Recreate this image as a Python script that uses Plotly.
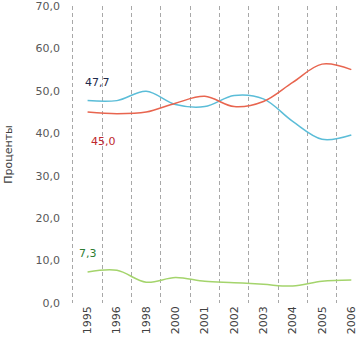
import plotly.graph_objects as go

years = ["1995", "1996", "1998", "2000", "2001", "2002", "2003", "2004", "2005", "2006"]
blue_vals = [47.7, 47.7, 49.9, 46.8, 46.3, 48.9, 48.1, 42.8, 38.6, 39.6]
red_vals = [45.0, 44.6, 45.0, 47.1, 48.7, 46.3, 47.5, 52.0, 56.3, 55.0]
green_vals = [7.3, 7.7, 4.9, 6.0, 5.1, 4.8, 4.4, 4.0, 5.1, 5.4]
y_ticks = [0, 10, 20, 30, 40, 50, 60, 70]

xs = list(range(len(years)))
font = "DejaVu Sans"

fig = go.Figure()
fig.add_trace(go.Scatter(x=xs, y=blue_vals, mode="lines",
                         line=dict(color="#5bbdd8", width=1.5, shape="spline", smoothing=1)))
fig.add_trace(go.Scatter(x=xs, y=red_vals, mode="lines",
                         line=dict(color="#e8654f", width=1.5, shape="spline", smoothing=1)))
fig.add_trace(go.Scatter(x=xs, y=green_vals, mode="lines",
                         line=dict(color="#a4d46c", width=1.5, shape="spline", smoothing=1)))

fig.add_annotation(x=xs[0], y=blue_vals[0], text="47,7", showarrow=False,
                   xshift=10, yshift=18, font=dict(family=font, size=11, color="#1f2a4a"))
fig.add_annotation(x=xs[0], y=red_vals[0], text="45,0", showarrow=False,
                   xshift=16, yshift=-29, font=dict(family=font, size=11, color="#c0282d"))
fig.add_annotation(x=xs[0], y=green_vals[0], text="7,3", showarrow=False,
                   xshift=0, yshift=19, font=dict(family=font, size=11, color="#2e7d32"))

fig.update_layout(
    width=358, height=338,
    margin=dict(l=70, r=0, t=5, b=35),
    paper_bgcolor="white", plot_bgcolor="white",
    showlegend=False,
    separators=", ",
    font=dict(family=font, size=11, color="#595959"),
)
fig.update_xaxes(
    range=[-0.6, 9.16],
    tickmode="array", tickvals=xs, ticktext=years, tickangle=-90,
    showgrid=False, zeroline=False, showline=False, ticks="",
    ticklabeloverflow="allow",
    tickfont=dict(family=font, size=11, color="#404040"),
    minor=dict(tickvals=[i - 0.5 for i in range(len(years))], showgrid=True,
               gridcolor="#a8a8a8", griddash="4px,3px", gridwidth=1, ticks=""),
)
fig.update_yaxes(
    range=[0, 70], tickvals=y_ticks, tickformat=".1f",
    showgrid=False, zeroline=False, showline=False, ticks="",
    ticklabelstandoff=9, ticklabeloverflow="allow",
    tickfont=dict(family=font, size=11, color="#595959"),
    title=dict(text="Проценты", standoff=20, font=dict(family=font, size=11, color="#404040")),
)

fig.write_html("out.html", config={"displayModeBar": False},
               post_script="document.body.style.margin='0';document.body.style.overflow='hidden';")
